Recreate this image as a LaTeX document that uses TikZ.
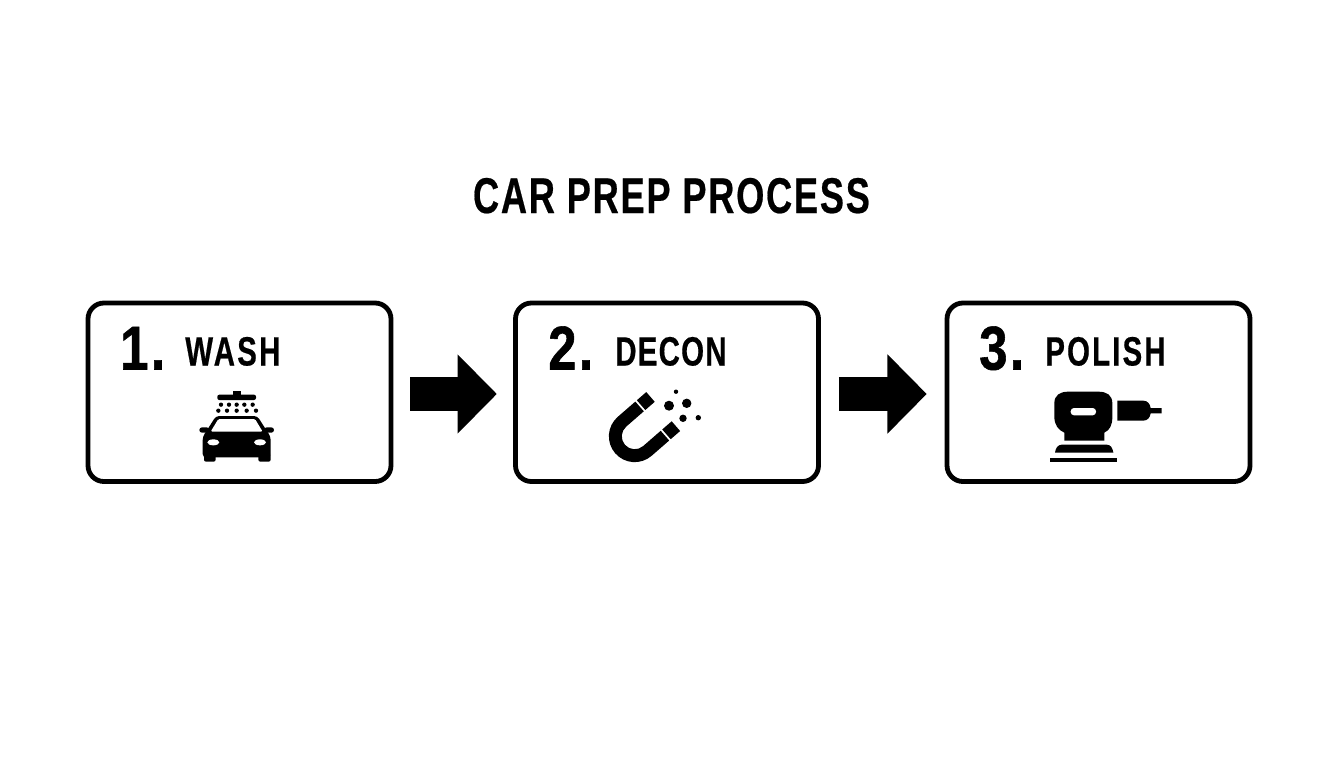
\documentclass[tikz,border=0pt]{standalone}
\usepackage{fontspec}
\usetikzlibrary{arrows.meta}
\setmainfont{Liberation Sans}
\newfontfamily\condfont[FakeStretch=0.72,FakeBold=0.4,LetterSpace=3.5]{Liberation Sans Bold}
\newfontfamily\washfont[FakeStretch=0.72,FakeBold=0.4,LetterSpace=5.5]{Liberation Sans Bold}
\newfontfamily\polfont[FakeStretch=0.72,FakeBold=0.4,LetterSpace=5.2]{Liberation Sans Bold}
\newfontfamily\decfont[FakeStretch=0.72,FakeBold=0.4,LetterSpace=3]{Liberation Sans Bold}
\newfontfamily\numfont[FakeStretch=0.82,FakeBold=0.9,LetterSpace=4]{Liberation Sans Bold}
\tikzset{
  x=.75pt,y=.75pt,
  stepbox/.style={draw=black,line width=3.6pt,rounded corners=12pt,fill=white,minimum width=227.25pt,minimum height=133.9pt,inner sep=0pt},
  titletext/.style={inner sep=0pt,anchor=base,font=\condfont\fontsize{37.7pt}{40pt}\selectfont},
  numtext/.style={inner sep=0pt,anchor=base west,font=\numfont\fontsize{46.4pt}{50pt}\selectfont},
  nametext/.style={inner sep=0pt,anchor=base west,font=\fontsize{30.7pt}{34pt}\selectfont},
  fatarrow/.style={line width=25pt,draw=black,-{Triangle[length=29.5pt,width=57.8pt]}},
  zoomed/.style={xscale=1/3,yscale=-1/3}
}
\begin{document}
\begin{tikzpicture}
\useasboundingbox (0,0) rectangle (1344,-768);
\fill[white] (0,0) rectangle (1344,-768);
\node[titletext] (title) at (671.5,-213) {CAR PREP PROCESS};
\node[stepbox] (b1) at (239.5,-392.25) {};
\node[stepbox] (b2) at (667,-392.25) {};
\node[stepbox] (b3) at (1098.5,-392.25) {};
\node[numtext] (n1) at (120,-369.5) {1.};
\node[nametext] (t1) at (185,-365.5) {\washfont WASH};
\node[numtext] (n2) at (548,-369.5) {2.};
\node[nametext] (t2) at (615,-365.5) {\decfont DECON};
\node[numtext] (n3) at (979,-369.5) {3.};
\node[nametext] (t3) at (1045,-365.5) {\polfont POLISH};
\draw[fatarrow,shorten <=12.7pt,shorten >=12.2pt] ([yshift=-1.3pt]b1.east) -- ([yshift=-1.3pt]b2.west);
\draw[fatarrow,shorten <=13.5pt,shorten >=13.4pt] ([yshift=-1.3pt]b2.east) -- ([yshift=-1.3pt]b3.west);
% car wash icon
\begin{scope}[shift={(180,-380)},zoomed]
 \fill[rounded corners=1.5pt] (112,44) rectangle (228,60);
 \fill (158,32) rectangle (182,46);
 \foreach \px in {123,147,170,193,218} \fill (\px,74) circle (6.5);
 \foreach \px in {115,141,170,200,228} \fill (\px,92) circle (6.5);
 \fill[rounded corners=2.5pt] (68,232) -- (68,170) -- (80,152) -- (108,108) -- (232,108) -- (260,152) -- (272,170) -- (272,232) -- cycle;
 \fill[rounded corners=1.5pt] (72,220) rectangle (107,245);
 \fill[rounded corners=1.5pt] (235,220) rectangle (272,245);
 \fill[rounded corners=2pt] (58,142) rectangle (88,158);
 \fill[rounded corners=2pt] (252,142) rectangle (282,158);
 \fill[white,rounded corners=1pt] (92,155) -- (248,155) -- (225,117) -- (115,117) -- cycle;
 \fill[white] (100,187) ellipse (18 and 9);
 \fill[white] (240,187) ellipse (18 and 9);
\end{scope}
% magnet icon
\begin{scope}[shift={(634.67,-436.33)},rotate=41]
 \fill (23.3,25.8) -- (0,25.8) arc (90:270:25.8) -- (23.3,-25.8) -- (23.3,-12.9) -- (0,-12.9) arc (270:90:12.9) -- (23.3,12.9) -- cycle;
 \fill (25.3,12.9) rectangle (37.8,25.8);
 \fill (25.3,-12.9) rectangle (37.8,-25.8);
\end{scope}
\fill (676,-391.7) circle (2.2);
\fill (669,-405.7) circle (5);
\fill (686.7,-403.3) circle (4.7);
\fill (683,-418.3) circle (3.7);
\fill (698.3,-417.7) circle (2.7);
% sander icon
\begin{scope}[shift={(1035,-380)},zoomed]
 \fill (88,182) -- (88,158) .. controls (70,150) and (58,135) .. (58,110) -- (58,70) .. controls (58,45) and (75,35) .. (100,35) -- (190,35) .. controls (215,35) and (232,45) .. (232,70) -- (232,110) .. controls (232,135) and (225,150) .. (208,158) -- (208,182) -- cycle;
 \fill[white,rounded corners=2.5pt] (107,84) rectangle (183,106);
 \fill (247,62) -- (325,62) .. controls (338,62) and (345,72) .. (347,84) -- (380,84) -- (380,100) -- (347,100) .. controls (345,112) and (338,122) .. (325,122) -- (247,122) -- cycle;
 \fill (60,218) .. controls (62,205) and (68,194) .. (80,194) -- (215,194) .. controls (228,194) and (233,205) .. (235,218) -- cycle;
 \fill (45,233) rectangle (247,247);
\end{scope}
\end{tikzpicture}
\end{document}
